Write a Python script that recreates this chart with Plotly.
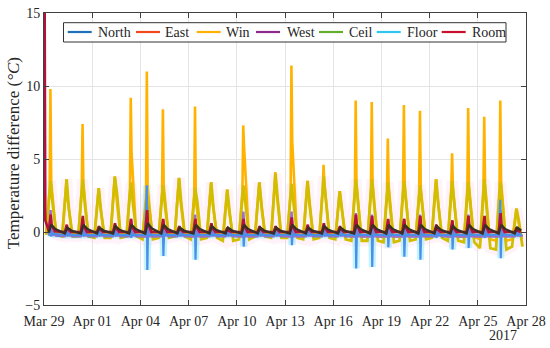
import plotly.graph_objects as go
from datetime import datetime, timedelta

# ---------------- data ----------------
start = datetime(2017, 3, 29)
day_starts = [start + timedelta(days=i) for i in range(30)]
x_tick_dates = [start + timedelta(days=3 * i) for i in range(11)]
x_tick_text = ["Mar 29", "Apr 01", "Apr 04", "Apr 07", "Apr 10", "Apr 13",
               "Apr 16", "Apr 19", "Apr 22", "Apr 25", "Apr 28"]
y_tick_vals = [-5, 0, 5, 10, 15]

series_names = ["North", "East", "Win", "West", "Ceil", "Floor", "Room"]
legend_colors = ["#1F6FB8", "#F24A1C", "#FFB000", "#8E2A8E", "#63AE2A", "#2EC5EE", "#C8102E"]

win_low = [0.0, -0.1, -0.1, -0.2, -0.1, -0.2, -0.2, -0.1, -0.1, -0.2, -0.1, -0.2, -0.1, -0.1, -0.1,
           -0.2, -0.2, -0.1, -0.2, -0.3, -0.3, -0.3, -0.3, -0.2, -0.1, -0.3, -0.3, -0.5, -0.6, -0.5]
win_rise = [3.0, 2.8, 3.0, 2.4, 3.0, 3.0, 2.4, 2.8, 3.0, 2.6, 2.8, 2.4, 2.8, 2.8, 3.2,
            2.8, 2.8, 3.0, 2.2, 3.0, 3.0, 2.8, 3.0, 2.8, 3.0, 3.0, 3.0, 3.0, 3.0, 1.3]
win_peak = [9.8, 3.6, 7.4, 3.0, 3.8, 9.2, 11.0, 8.4, 3.7, 8.6, 3.4, 2.9, 7.3, 3.4, 4.1,
            11.4, 3.5, 4.6, 2.8, 9.0, 8.9, 6.4, 8.7, 8.3, 3.6, 5.4, 8.5, 7.9, 9.0, 1.6]
win_after = [3.4, 2.4, 3.4, 2.2, 3.0, 5.4, 3.0, 3.2, 2.6, 2.1, 2.4, 2.0, 5.9, 2.8, 3.0,
             6.2, 2.6, 3.3, 2.3, 3.4, 3.4, 3.2, 3.3, 3.0, 2.8, 3.0, 3.2, 3.3, 3.5, 1.2]

ceil_low = [-0.2, -0.3, -0.3, -0.4, -0.4, -0.3, -0.5, -0.4, -0.3, -0.5, -0.4, -0.6, -0.5, -0.3, -0.4,
            -0.4, -0.5, -0.4, -0.5, -0.6, -0.6, -0.7, -0.6, -0.5, -0.4, -0.6, -0.7, -1.1, -1.2, -1.0]
ceil_peak = [3.5, 3.6, 3.6, 3.0, 3.8, 3.4, 2.6, 3.2, 3.7, 3.0, 3.4, 2.9, 3.2, 3.4, 4.0,
             3.3, 3.5, 3.8, 2.8, 3.6, 3.6, 3.4, 3.5, 3.2, 3.6, 3.5, 3.4, 3.6, 3.4, 1.6]
ceil_mid = [1.8, 1.6, 1.8, 1.4, 2.6, 1.8, 1.6, 1.6, 1.9, 2.0, 1.6, 1.4, 1.8, 1.6, 2.2,
            1.8, 1.8, 2.2, 1.5, 1.9, 1.9, 1.6, 1.9, 1.7, 1.8, 1.8, 1.7, 1.6, 1.8, 0.8]

room_start = 16.0
room_low = [0.05, 0.0, 0.0, 0.0, 0.0, 0.0, 0.0, 0.0, 0.0, 0.0, 0.0, 0.0, 0.0, 0.0, 0.0,
            0.0, 0.0, 0.0, 0.0, 0.0, 0.0, 0.0, 0.0, 0.0, 0.0, 0.0, 0.0, 0.0, 0.0, 0.0]
room_peak = [1.2, 0.5, 1.1, 0.4, 0.6, 0.9, 1.5, 0.9, 0.4, 0.9, 0.6, 0.3, 0.9, 0.4, 0.4,
             1.0, 0.5, 0.6, 0.4, 1.2, 1.1, 0.9, 0.9, 1.1, 0.5, 0.8, 1.1, 1.1, 1.3, 0.3]
room_mid = [0.5, 0.2, 0.4, 0.2, 0.3, 0.4, 0.6, 0.4, 0.2, 0.4, 0.3, 0.1, 0.4, 0.2, 0.2,
            0.4, 0.2, 0.3, 0.2, 0.5, 0.5, 0.4, 0.4, 0.5, 0.2, 0.3, 0.5, 0.5, 0.5, 0.1]

west_low = [-0.2, -0.25, -0.25, -0.25, -0.25, -0.25, -0.3, -0.25, -0.25, -0.3, -0.25, -0.25, -0.3, -0.25, -0.25,
            -0.3, -0.25, -0.25, -0.25, -0.3, -0.3, -0.3, -0.3, -0.3, -0.25, -0.3, -0.3, -0.3, -0.3, -0.25]
west_peak = [1.5, 0.4, 1.0, 0.3, 0.5, 0.9, 1.8, 0.8, 0.3, 1.2, 0.5, 0.3, 1.4, 0.3, 0.4,
             1.4, 0.4, 0.5, 0.3, 1.3, 1.2, 0.8, 0.9, 1.2, 0.4, 0.7, 1.2, 1.0, 1.5, 0.3]

floor_low = [-0.15, -0.2, -0.2, -0.2, -0.2, -0.2, -0.2, -0.2, -0.2, -0.2, -0.2, -0.2, -0.2, -0.2, -0.2,
             -0.2, -0.2, -0.2, -0.2, -0.2, -0.2, -0.2, -0.2, -0.2, -0.2, -0.2, -0.2, -0.2, -0.2, -0.2]
floor_peak = [0.3, 0.2, 0.3, 0.2, 0.2, 0.3, 3.2, 0.4, 0.2, 0.6, 0.2, 0.2, 0.5, 0.2, 0.2,
              0.5, 0.2, 0.3, 0.2, 0.6, 0.5, 0.4, 0.5, 0.5, 0.3, 0.5, 0.6, 0.5, 2.2, 0.2]
floor_dip = [-0.3, -0.3, -0.3, -0.3, -0.3, -0.4, -2.6, -1.65, -0.3, -1.9, -0.3, -0.3, -1.0, -0.3, -0.3,
             -0.9, -0.3, -0.3, -0.3, -2.5, -2.4, -1.05, -1.7, -1.9, -0.4, -1.2, -1.1, -0.4, -1.8, -0.3]

east_low = [-0.05, -0.1, -0.1, -0.1, -0.1, -0.1, -0.1, -0.1, -0.1, -0.1, -0.1, -0.1, -0.1, -0.1, -0.1,
            -0.1, -0.1, -0.1, -0.1, -0.1, -0.1, -0.1, -0.1, -0.1, -0.1, -0.1, -0.1, -0.1, -0.1, -0.1]
east_peak = [0.5, 0.3, 0.5, 0.3, 0.4, 0.5, 0.6, 0.5, 0.3, 0.5, 0.4, 0.3, 0.5, 0.3, 0.3,
             0.5, 0.3, 0.4, 0.3, 0.5, 0.5, 0.5, 0.5, 0.5, 0.4, 0.4, 0.5, 0.5, 0.5, 0.3]
east_mid = [0.2, 0.1, 0.2, 0.1, 0.15, 0.2, 0.25, 0.2, 0.1, 0.2, 0.15, 0.1, 0.2, 0.1, 0.1,
            0.2, 0.1, 0.15, 0.1, 0.2, 0.2, 0.2, 0.2, 0.2, 0.15, 0.15, 0.2, 0.2, 0.2, 0.1]

north_low = [-0.25, -0.3, -0.3, -0.3, -0.3, -0.3, -0.3, -0.3, -0.3, -0.3, -0.3, -0.3, -0.3, -0.3, -0.3,
             -0.3, -0.3, -0.3, -0.3, -0.3, -0.3, -0.3, -0.3, -0.3, -0.3, -0.3, -0.3, -0.3, -0.3, -0.3]
north_peak = [0.2, 0.1, 0.2, 0.1, 0.1, 0.2, 0.3, 0.2, 0.1, 0.2, 0.1, 0.1, 0.2, 0.1, 0.1,
              0.2, 0.1, 0.1, 0.1, 0.2, 0.2, 0.2, 0.2, 0.2, 0.1, 0.2, 0.2, 0.2, 0.2, 0.1]


def build(offsets, lists, lead=None):
    xs, ys = [], []
    if lead:
        for off, v in lead:
            xs.append(start + timedelta(days=off))
            ys.append(v)
    for i, d in enumerate(day_starts):
        for off, vals in zip(offsets, lists):
            xs.append(d + timedelta(days=off))
            ys.append(vals[i])
    return xs, ys


fig = go.Figure()


def add(xy, color, width):
    fig.add_trace(go.Scatter(x=xy[0], y=xy[1], mode="lines", showlegend=False,
                             hoverinfo="skip", line=dict(color=color, width=width)))


ceil_xy = build([0.13, 0.41, 0.55, 0.78], [ceil_low, ceil_peak, ceil_mid, ceil_low])
floor_xy = build([0.30, 0.40, 0.43, 0.47, 0.75], [floor_low, floor_peak, floor_dip, floor_low, floor_low])
add(ceil_xy, "rgba(255,195,228,0.22)", 11)   # faint halo seen around the daily humps
add(floor_xy, "rgba(150,235,255,0.55)", 7)   # Floor halo
add(build([0.15, 0.35, 0.40, 0.45, 0.74], [win_low, win_rise, win_peak, win_after, win_low]), "#FFB300", 2.6)
add(ceil_xy, "#D2BE00", 2.8)
add(build([0.30, 0.45, 0.75], [north_low, north_peak, north_low]), "#5A7FD8", 2.2)
add(build([0.30, 0.41, 0.50, 0.80], [west_low, west_peak, west_low, west_low]), "#A36CCB", 2.4)
add(floor_xy, "#4A8FE8", 2.2)
add(build([0.30, 0.42, 0.47, 0.68], [room_low, room_peak, room_mid, room_low],
          lead=[(0.04, room_start), (0.08, 0.8)]), "#B3123A", 2.6)
add(build([0.30, 0.45, 0.70], [east_low, east_peak, east_mid]), "#3A2E26", 2.4)

# ---------------- layout ----------------
L, R, T, B = 44, 24, 13, 43
W, H = 550, 348
pw, ph = W - L - R, H - T - B


def fx(px):
    return (px - L) / pw


def fy(py):
    return (H - B - py) / ph


serif = "Times New Roman, Liberation Serif, serif"
axis_col = "#404040"
txt_col = "#262626"

fig.update_layout(
    width=W, height=H, margin=dict(l=L, r=R, t=T, b=B, autoexpand=False),
    paper_bgcolor="white", plot_bgcolor="white",
    font=dict(family=serif, size=14, color=txt_col),
    xaxis=dict(range=[start, start + timedelta(days=30)], tickvals=x_tick_dates, ticktext=x_tick_text,
               automargin=False, ticklabelstandoff=3,
               showgrid=True, gridcolor="#E4E4E4", gridwidth=1, zeroline=False,
               showline=True, linecolor=axis_col, linewidth=1, mirror="ticks",
               ticks="inside", ticklen=5, tickcolor=axis_col,
               tickfont=dict(family=serif, size=14, color=txt_col)),
    yaxis=dict(range=[-5, 15], tickvals=y_tick_vals, automargin=False,
               showgrid=True, gridcolor="#E4E4E4", gridwidth=1, zeroline=False,
               showline=True, linecolor=axis_col, linewidth=1, mirror="ticks",
               ticks="inside", ticklen=5, tickcolor=axis_col,
               tickfont=dict(family=serif, size=14, color=txt_col)),
)

annotations = [
    dict(text="2017", x=fx(503), y=fy(335), xref="paper", yref="paper", showarrow=False,
         xanchor="center", yanchor="middle", font=dict(family=serif, size=14, color=txt_col)),
    dict(text="Temperature difference (<i>°C</i>)", x=fx(13), y=0.52, xref="paper", yref="paper",
         showarrow=False, textangle=-90, xanchor="center", yanchor="middle",
         font=dict(family=serif, size=17, color=txt_col)),
]

shapes = [dict(type="rect", xref="paper", yref="paper", x0=fx(63.5), x1=fx(506), y0=fy(42), y1=fy(22.7),
               fillcolor="white", line=dict(color="#333333", width=1), layer="above")]
leg_line_x = [67.7, 136, 196.7, 256, 319, 376.7, 441.7]
leg_text_x = [95.5, 163, 224, 285, 346.5, 405, 470]
for name, col, lx, tx in zip(series_names, legend_colors, leg_line_x, leg_text_x):
    shapes.append(dict(type="line", xref="paper", yref="paper", x0=fx(lx), x1=fx(lx + 24),
                       y0=fy(32), y1=fy(32), line=dict(color=col, width=2.2), layer="above"))
    annotations.append(dict(text=name, x=fx(tx), y=fy(32.5), xref="paper", yref="paper",
                            showarrow=False, xanchor="left", yanchor="middle",
                            font=dict(family=serif, size=14, color=txt_col)))

fig.update_layout(shapes=shapes, annotations=annotations)
fig.write_html("out.html", config={"displayModeBar": False},
               post_script="document.body.style.margin='0';document.body.style.overflow='hidden';")
